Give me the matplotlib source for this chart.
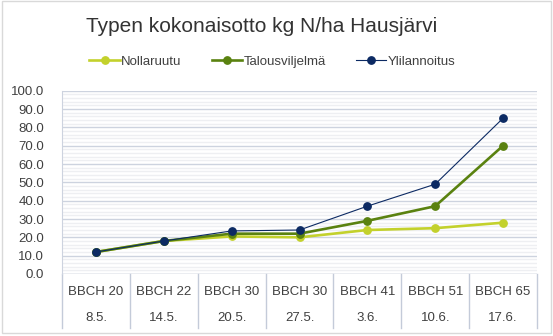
import numpy as np
import matplotlib.pyplot as plt
from matplotlib.patches import Rectangle
from matplotlib.ticker import MultipleLocator

# Stages and sampling dates
bbch = ['BBCH 20', 'BBCH 22', 'BBCH 30', 'BBCH 30', 'BBCH 41', 'BBCH 51', 'BBCH 65']
dates = ['8.5.', '14.5.', '20.5.', '27.5.', '3.6.', '10.6.', '17.6.']

# Total nitrogen uptake, kg N/ha
nollaruutu = [12, 18, 20.5, 20, 24, 25, 28]
talousviljelma = [12, 18, 22, 22, 29, 37, 70]
ylilannoitus = [12, 18, 23.5, 24, 37, 49, 85]

plt.rcParams['font.family'] = ['Liberation Sans', 'DejaVu Sans']
txt = '#404040'
fs = 9.5

fig = plt.figure(figsize=(5.53, 3.36), dpi=100)
ax = fig.add_axes([62 / 553, 1 - 274 / 336, 475 / 553, 183.3 / 336])

x = np.arange(len(bbch))
ax.plot(x, nollaruutu, color='#c3d12c', lw=1.9, marker='o', ms=5.3, label='Nollaruutu', zorder=3)
ax.plot(x, talousviljelma, color='#5a8210', lw=1.9, marker='o', ms=5.3, label='Talousviljelmä', zorder=4)
ax.plot(x, ylilannoitus, color='#0c2a63', lw=0.8, marker='o', ms=5.3, label='Ylilannoitus', zorder=5)

ax.set_xlim(-0.5, len(bbch) - 0.5)
ax.set_ylim(0, 100)
ax.yaxis.set_minor_locator(MultipleLocator(2))
ax.set_yticks(np.arange(0, 101, 10))
ax.set_yticklabels([f'{v:.1f}' for v in np.arange(0, 101, 10)])
ax.tick_params(axis='y', which='both', length=0, labelsize=fs, labelcolor=txt, pad=13)
ax.grid(axis='y', which='major', color='#cdd3df', lw=1.0)
ax.grid(axis='y', which='minor', color='#eeeff2', lw=1.0)
ax.set_axisbelow(True)

ax.set_xticks([])
for s in ['top', 'right', 'bottom']:
    ax.spines[s].set_visible(False)
ax.spines['left'].set_color('#cdd3df')
ax.axhline(0, color='#c4cbd9', lw=1.0, zorder=2)

# two-level category labels with separators
trans = ax.get_xaxis_transform()
for b in np.arange(-0.5, len(bbch), 1.0):
    ax.plot([b, b], [0, -0.295], color='#c4cbd9', lw=1.0, transform=trans, clip_on=False)
for i in x:
    ax.text(i, -0.096, bbch[i], transform=trans, ha='center', va='center', fontsize=fs, color=txt)
    ax.text(i, -0.238, dates[i], transform=trans, ha='center', va='center', fontsize=fs, color=txt)

fig.text(261.5 / 553, 1 - 26 / 336, 'Typen kokonaisotto kg N/ha Hausjärvi', ha='center', va='center',
         fontsize=15, color='#333333')

fig.legend(loc='center', bbox_to_anchor=(272.5 / 553, 1 - 62 / 336), ncol=3, frameon=False,
           fontsize=fs, handlelength=2.3, columnspacing=2.3, handletextpad=0.1,
           labelcolor=txt)

fig.patches.append(Rectangle((2 / 553, 1 - 333 / 336), 549 / 553, 332 / 336,
                             transform=fig.transFigure, fill=False, edgecolor='#d9d9d9', lw=1.0))

fig.savefig('out.png', dpi=100)
